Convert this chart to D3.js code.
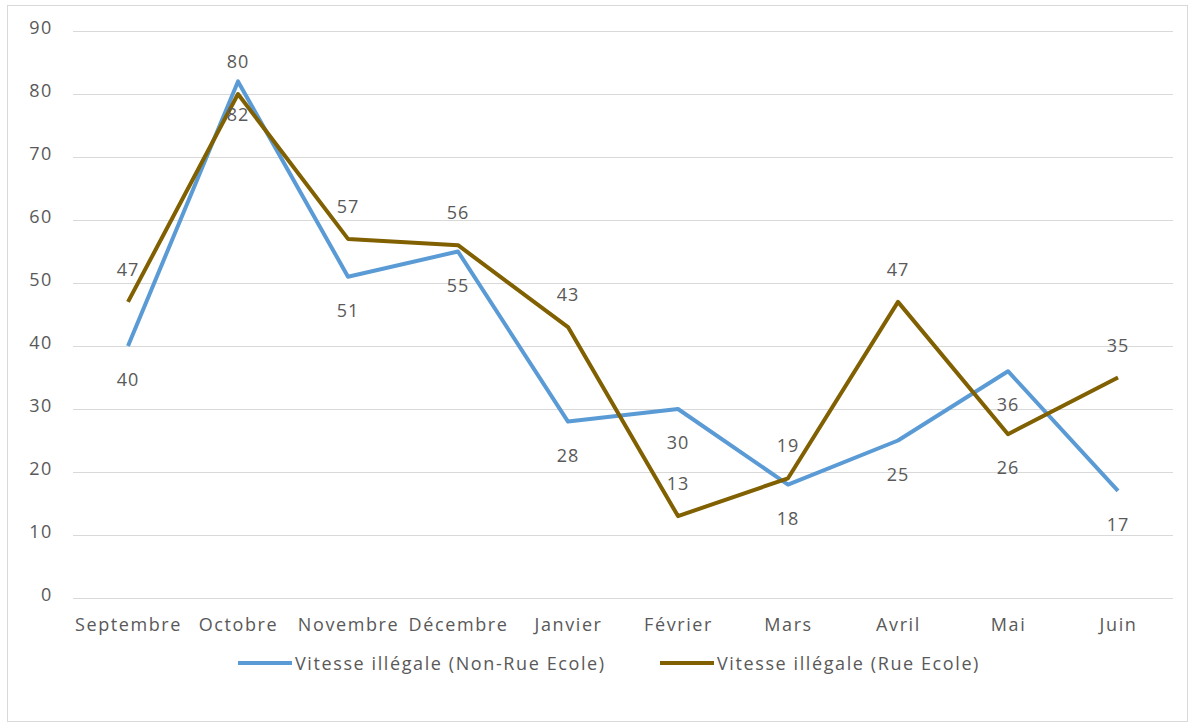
<!DOCTYPE html>
<html lang="fr">
<head>
    <meta charset="UTF-8">
    <title>Vitesse illégale</title>
    <script src="https://d3js.org/d3.v7.min.js"></script>
    <style>
        body{ margin: 0; background: #fff; }
        text{ font-family: "Open Sans", "Noto Sans", sans-serif; fill: #595959; }
        .tick text{ font-size: 18px; letter-spacing: 1.6px; }
        .lbl{ font-size: 18px; text-anchor: middle; letter-spacing: 1px; }
        .legend{ font-size: 18px; letter-spacing: 1.6px; }
    </style>
</head>
<body>
<svg id="chart" width="1191" height="728"></svg>
<script>
    // data
    let mois = ["Septembre","Octobre","Novembre","Décembre","Janvier","Février","Mars","Avril","Mai","Juin"]
    let nonRueEcole = [40, 82, 51, 55, 28, 30, 18, 25, 36, 17]
    let rueEcole = [47, 80, 57, 56, 43, 13, 19, 47, 26, 35]
    let yTicks = [0,10,20,30,40,50,60,70,80,90]

    let svg = d3.select("#chart")

    // chart frame
    svg.append("rect")
        .attr("x", 7.5).attr("y", 5.5)
        .attr("width", 1180).attr("height", 716)
        .attr("fill", "#fff")
        .attr("stroke", "#d9d9d9")

    let plotLeft = 73, plotRight = 1173, plotTop = 31, plotBottom = 598

    let x = d3.scalePoint().domain(mois).range([plotLeft, plotRight]).padding(0.5)
    let y = d3.scaleLinear().domain([0, 90]).range([plotBottom, plotTop])

    // gridlines
    svg.append("g")
        .selectAll("line")
        .data(yTicks)
        .enter()
        .append("line")
        .attr("x1", plotLeft).attr("x2", plotRight)
        .attr("y1", d => y(d) + 0.5).attr("y2", d => y(d) + 0.5)
        .attr("stroke", "#d9d9d9")
        .attr("stroke-width", 1)

    // y axis
    let yAxis = svg.append("g")
        .attr("transform", "translate(" + (plotLeft - 20) + ",-3)")
        .call(d3.axisLeft(y).tickValues(yTicks).tickSize(0).tickPadding(0))
    yAxis.select(".domain").remove()

    // x axis
    let xAxis = svg.append("g")
        .attr("transform", "translate(0," + plotBottom + ")")
        .call(d3.axisBottom(x).tickSize(0).tickPadding(20))
    xAxis.select(".domain").remove()

    let series = [
        {name: "Vitesse illégale (Non-Rue Ecole)", values: nonRueEcole, color: "#5b9bd5", pos: 1},
        {name: "Vitesse illégale (Rue Ecole)", values: rueEcole, color: "#806000", pos: -1}
    ]

    let line = d3.line()
        .x((d, i) => x(mois[i]))
        .y(d => y(d))

    series.forEach(function (s) {
        svg.append("path")
            .datum(s.values)
            .attr("d", line)
            .attr("fill", "none")
            .attr("stroke", s.color)
            .attr("stroke-width", 4)
            .attr("stroke-linejoin", "round")
    })

    // data labels (blue below, gold above, except gold Mai below)
    series.forEach(function (s, k) {
        svg.append("g")
            .selectAll("text")
            .data(s.values)
            .enter()
            .append("text")
            .attr("class", "lbl")
            .attr("x", (d, i) => x(mois[i]))
            .attr("y", function (d, i) {
                let p = s.pos
                if (k === 1 && mois[i] === "Mai") p = 1
                return y(d) + p * 33
            })
            .attr("dominant-baseline", "central")
            .text(d => d)
    })

    // legend
    let legend = svg.append("g")
    let legX = [238, 660]
    series.forEach(function (s, i) {
        legend.append("line")
            .attr("x1", legX[i]).attr("x2", legX[i] + 54)
            .attr("y1", 663).attr("y2", 663)
            .attr("stroke", s.color)
            .attr("stroke-width", 4)
        legend.append("text")
            .attr("class", "legend")
            .attr("x", legX[i] + 57)
            .attr("y", 663)
            .attr("dominant-baseline", "central")
            .text(s.name)
    })
</script>
</body>
</html>
